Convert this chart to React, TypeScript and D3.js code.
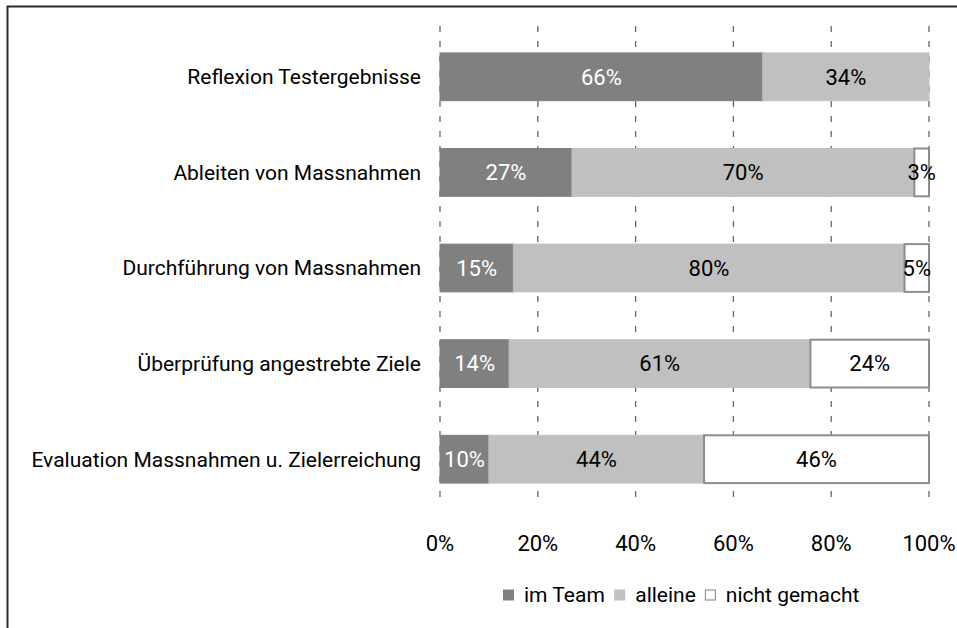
import React from "react";
import * as d3 from "d3";

const categories = [
  "Reflexion Testergebnisse",
  "Ableiten von Massnahmen",
  "Durchführung von Massnahmen",
  "Überprüfung angestrebte Ziele",
  "Evaluation Massnahmen u. Zielerreichung",
];
const seriesNames = ["im Team", "alleine", "nicht gemacht"];
const imTeam = [66, 27, 15, 14, 10];
const alleine = [34, 70, 80, 61, 44];
const nichtGemacht = [0, 3, 5, 24, 46];
const tickValues = [0, 0.2, 0.4, 0.6, 0.8, 1];

const fills = ["#808080", "#c0c0c0", "#ffffff"];
const strokes = ["#808080", "#c0c0c0", "#8c8c8c"];
const labelColors = ["#ffffff", "#000000", "#000000"];
const FONT = "Roboto, 'Liberation Sans', sans-serif";

function measure(text: string, size: number): number {
  if (typeof document === "undefined") return text.length * size * 0.5;
  const c = document.createElement("canvas");
  const ctx = c.getContext("2d");
  if (!ctx) return text.length * size * 0.5;
  ctx.font = `${size}px Roboto`;
  return ctx.measureText(text).width;
}

export default function App() {
  const W = 957, H = 628;
  const x0 = 440, x1 = 929;
  const x = d3.scaleLinear().domain([0, 1]).range([x0, x1]);
  const y = d3.scaleBand().domain(categories).range([29, 507]).paddingInner(0.5).paddingOuter(0.25);
  const gridTop = 26, gridBot = 505;

  const series = [imTeam, alleine, nichtGemacht];
  const rows = categories.map((c, i) => {
    const vals = series.map((s) => s[i]);
    const total = d3.sum(vals);
    let acc = 0;
    return vals.map((v, k) => {
      const start = acc / total;
      acc += v;
      return { cat: c, k, v, start, end: acc / total };
    });
  });

  const valFs = 22;
  const tickFs = 22;
  const catFs = 21;
  const legFs = 21;
  const sq = 11;
  const legendY = 595;
  let lx = 503;
  const legendItems = seriesNames.map((n) => {
    const item = { x: lx, tx: lx + sq + 10 };
    lx = item.tx + measure(n, legFs) + 9;
    return item;
  });

  return (
    <svg width={W} height={H} style={{ position: "absolute", left: 0, top: 0, background: "#fff" }} fontFamily={FONT}>
      <rect x={0} y={0} width={W} height={H} fill="#fff" />
      <path d={`M7.5,${H + 5} V6.5 H${W + 5}`} fill="none" stroke="#2a2a2a" strokeWidth={2} />
      {tickValues.map((t) => (
        <line key={t} x1={x(t)} x2={x(t)} y1={gridTop} y2={gridBot} stroke="#666" strokeWidth={1.3} strokeDasharray="6,9" />
      ))}
      {rows.map((segs) =>
        segs.filter((s) => s.v > 0).map((s) => (
          <rect
            key={s.cat + s.k}
            x={x(s.start)}
            y={y(s.cat)!}
            width={x(s.end) - x(s.start)}
            height={y.bandwidth()}
            fill={fills[s.k]}
            stroke={strokes[s.k]}
            strokeWidth={s.k === 2 ? 2 : 1}
          />
        ))
      )}
      {rows.map((segs) =>
        segs.filter((s) => s.v > 0).map((s) => (
          <text
            key={"t" + s.cat + s.k}
            x={(x(s.start) + x(s.end)) / 2}
            y={y(s.cat)! + y.bandwidth() / 2}
            dy="0.35em"
            textAnchor="middle"
            fontSize={valFs}
            fill={labelColors[s.k]}
          >
            {s.v}%
          </text>
        ))
      )}
      {categories.map((c) => (
        <text key={c} x={421} y={y(c)! + y.bandwidth() / 2} dy="0.35em" textAnchor="end" fontSize={catFs} fill="#000">
          {c}
        </text>
      ))}
      {tickValues.map((t) => (
        <text key={"l" + t} x={x(t)} y={543} dy="0.35em" textAnchor="middle" fontSize={tickFs} fill="#000">
          {d3.format(".0%")(t)}
        </text>
      ))}
      {seriesNames.map((n, k) => (
        <g key={n}>
          <rect
            x={legendItems[k].x + 0.5}
            y={legendY - sq / 2 + 0.5}
            width={sq - 1}
            height={sq - 1}
            fill={fills[k]}
            stroke={k === 2 ? "#808080" : fills[k]}
            strokeWidth={1}
          />
          <text x={legendItems[k].tx} y={legendY} dy="0.35em" fontSize={legFs} fill="#000">
            {n}
          </text>
        </g>
      ))}
    </svg>
  );
}
